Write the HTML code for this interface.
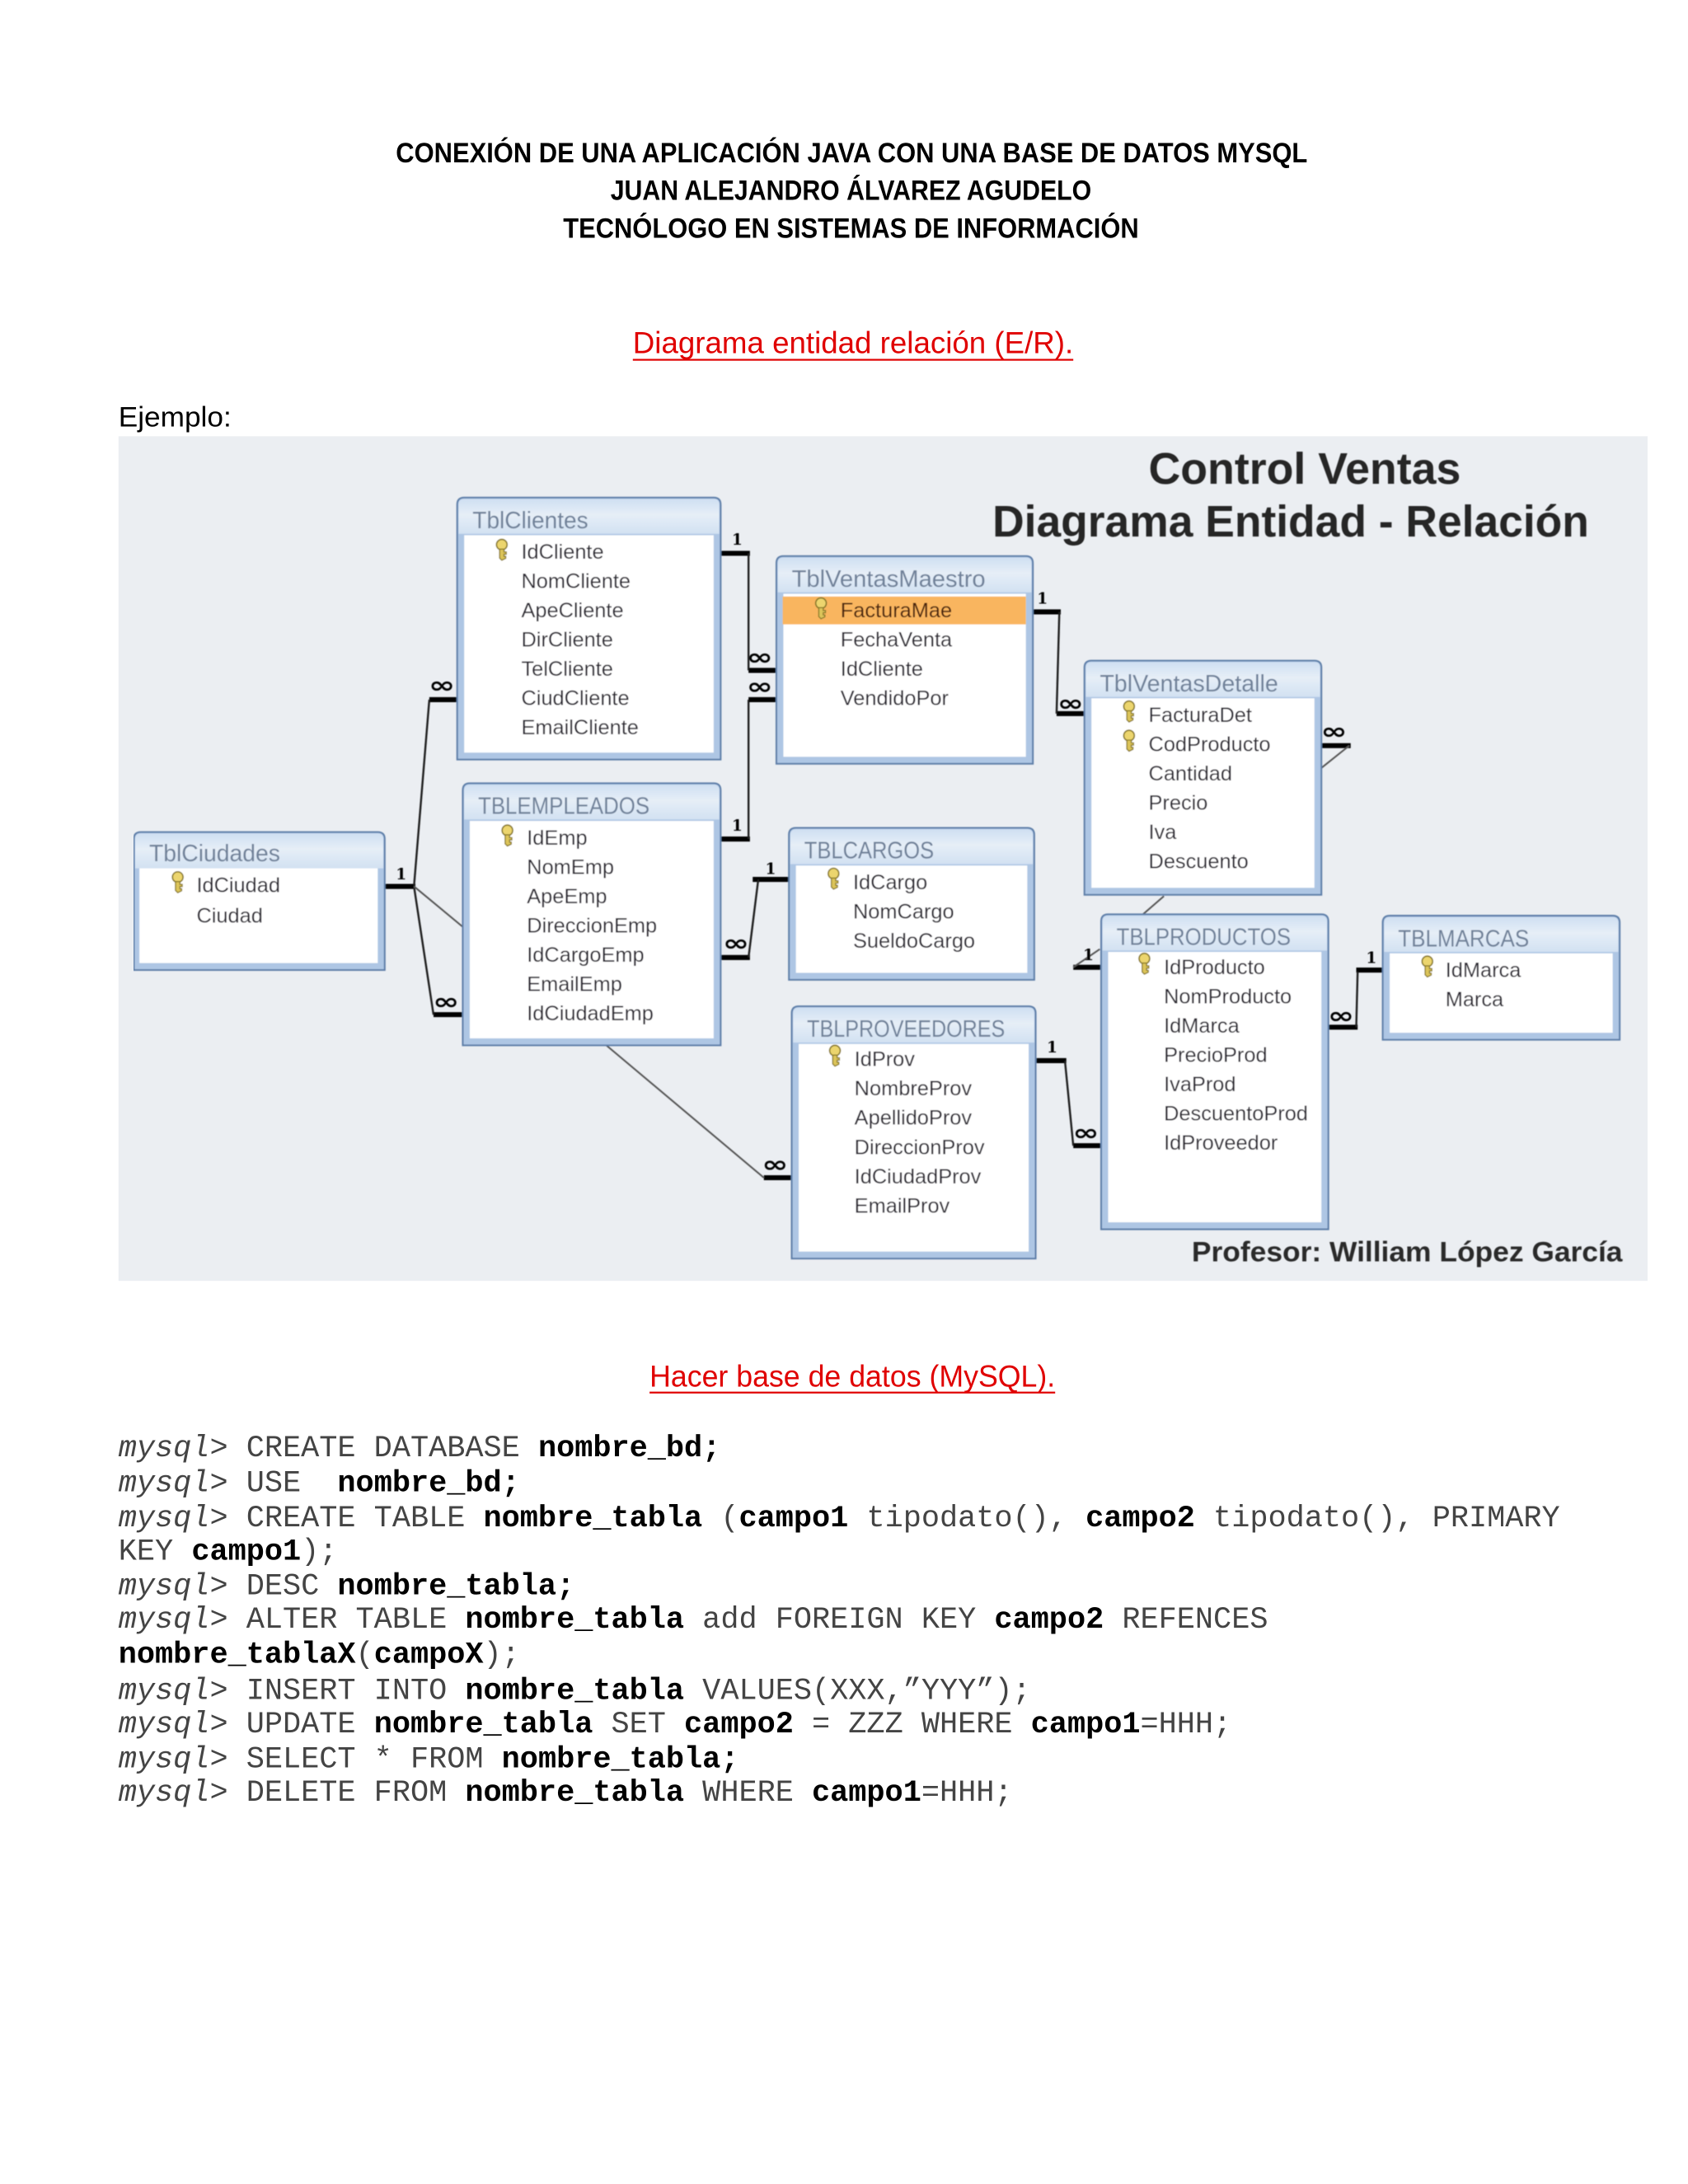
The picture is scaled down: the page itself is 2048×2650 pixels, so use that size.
<!DOCTYPE html>
<html><head><meta charset="utf-8"><title>Conexión</title>
<style>
html,body{margin:0;padding:0;background:#fff}
svg{display:block}
text{white-space:pre}
.h{font:bold 20px "Liberation Sans",sans-serif;fill:#000}
.r{font:22px "Liberation Sans",sans-serif;fill:#e00000}
.e{font:20px "Liberation Sans",sans-serif;fill:#000}
.c{font:21.82px "Liberation Mono",monospace;fill:#444}
.c .b{font-weight:bold;fill:#000}
.c .i{font-style:italic}
.t{font:16.7px "Liberation Sans",sans-serif;fill:#6f8199;transform:translateY(-1px)}
.f{font:15px "Liberation Sans",sans-serif;fill:#2a2830}
.big{font:bold 32px "Liberation Sans",sans-serif;fill:#262626;transform:translateY(-1px)}
.pr{font:bold 20px "Liberation Sans",sans-serif;fill:#2b2b2b;transform:translateY(-1px)}
.one{font:bold 11px "DejaVu Serif",serif;fill:#000}
.inf{font:bold 16px "DejaVu Sans",sans-serif;fill:#000}
.tk{stroke:#000;stroke-width:3.6;fill:none}
.ln{stroke:#1a1a1a;stroke-width:1.4;fill:none}
.gl{stroke:#555;stroke-width:1.2;fill:none}
.fr{fill:#aec6e4;stroke:#5d7ea8;stroke-width:1.2}
.in{fill:#fff}
</style></head><body>
<svg xmlns="http://www.w3.org/2000/svg" width="2048" height="2650" viewBox="0 0 1211 1567">
<defs>
<linearGradient id="g" x1="0" y1="0" x2="0" y2="1"><stop offset="0" stop-color="#cfdff2"/><stop offset=".45" stop-color="#e6eef7"/><stop offset="1" stop-color="#d2e1f2"/></linearGradient>
<g id="k"><circle cx="5" cy="3.8" r="3.8" fill="#ecd56e" stroke="#8a7a2a" stroke-width="1"/><path d="M3.4 7h3.2v2h1.6v1.6H6.6v1.6h1.2v1.4L5 15l-1.6-1.6z" fill="#dcc45a" stroke="#8a7a2a" stroke-width=".8"/></g>
<filter id="bl" x="0" y="0" width="100%" height="100%"><feGaussianBlur stdDeviation="0.3"/></filter>
</defs>

<text class="h" x="284" y="116.5" textLength="654" lengthAdjust="spacingAndGlyphs">CONEXIÓN DE UNA APLICACIÓN JAVA CON UNA BASE DE DATOS MYSQL</text>
<text class="h" x="438" y="143.5" textLength="345" lengthAdjust="spacingAndGlyphs">JUAN ALEJANDRO ÁLVAREZ AGUDELO</text>
<text class="h" x="404" y="170.5" textLength="413" lengthAdjust="spacingAndGlyphs">TECNÓLOGO EN SISTEMAS DE INFORMACIÓN</text>

<text class="r" x="454" y="253.5" textLength="316" lengthAdjust="spacingAndGlyphs">Diagrama entidad relación (E/R).</text>
<rect x="454" y="257.5" width="316" height="1.3" fill="#e00000"/>
<text class="e" x="85" y="306" textLength="81" lengthAdjust="spacingAndGlyphs">Ejemplo:</text>

<rect x="85" y="313" width="1097" height="606" fill="#ebeef2"/>
<g filter="url(#bl)">
<text class="big" x="824" y="348" textLength="224" lengthAdjust="spacingAndGlyphs">Control Ventas</text>
<text class="big" x="712" y="386" textLength="428" lengthAdjust="spacingAndGlyphs">Diagrama Entidad - Relación</text>
<text class="pr" x="855" y="906" textLength="309" lengthAdjust="spacingAndGlyphs">Profesor: William López García</text>

<!-- connectors -->
<path class="tk" d="M517 397H538M537 481H557M537 502H557M517 602H538M517 687H538M540 631H566M276 636H298M308 502H328M311 728H332M548 845H568M743 761H765M770 822H790M741 439H761M758 512H778M948 535H969M770 694H790M953 737H974M973 696H992"/>
<path class="ln" d="M537 397V481M537 502V602M537 687L544 631M297 636L308 502M297 636L311 728M764 761L770 822M760 439L758 512M973 737L974 697"/>
<path class="gl" d="M297 636L332 665M435 750L548 845M968 535L948 551M835 643L820 656M789 681L770 694"/>
<text class="one" x="525" y="391">1</text><text class="one" x="525" y="596">1</text><text class="one" x="549" y="627">1</text><text class="one" x="284" y="631">1</text><text class="one" x="751" y="755">1</text><text class="one" x="744" y="433">1</text><text class="one" x="777" y="689">1</text><text class="one" x="980" y="691">1</text>
<text class="inf" x="535.5" y="477" textLength="19" lengthAdjust="spacingAndGlyphs">∞</text>
<text class="inf" x="535.5" y="498" textLength="19" lengthAdjust="spacingAndGlyphs">∞</text>
<text class="inf" x="307.5" y="497" textLength="19" lengthAdjust="spacingAndGlyphs">∞</text>
<text class="inf" x="518.5" y="682" textLength="19" lengthAdjust="spacingAndGlyphs">∞</text>
<text class="inf" x="310.5" y="724" textLength="19" lengthAdjust="spacingAndGlyphs">∞</text>
<text class="inf" x="546.5" y="841" textLength="19" lengthAdjust="spacingAndGlyphs">∞</text>
<text class="inf" x="769.5" y="818" textLength="19" lengthAdjust="spacingAndGlyphs">∞</text>
<text class="inf" x="758.5" y="510" textLength="19" lengthAdjust="spacingAndGlyphs">∞</text>
<text class="inf" x="947.5" y="530" textLength="19" lengthAdjust="spacingAndGlyphs">∞</text>
<text class="inf" x="952.5" y="734" textLength="19" lengthAdjust="spacingAndGlyphs">∞</text>

<!-- TblClientes -->
<path class="fr" d="M328 545V362Q328 357 333 357H512Q517 357 517 362V545Z"/>
<path d="M329 383V362Q329 358 333 358H512Q516 358 516 362V383Z" fill="url(#g)"/>
<rect class="in" x="333" y="384" width="179" height="156"/>
<text class="t" x="339" y="380" textLength="83" lengthAdjust="spacingAndGlyphs">TblClientes</text>
<use href="#k" x="355" y="387"/>
<text class="f" x="374" y="401">IdCliente</text><text class="f" x="374" y="422">NomCliente</text><text class="f" x="374" y="443">ApeCliente</text><text class="f" x="374" y="464">DirCliente</text><text class="f" x="374" y="485">TelCliente</text><text class="f" x="374" y="506">CiudCliente</text><text class="f" x="374" y="527">EmailCliente</text>

<!-- TBLEMPLEADOS -->
<path class="fr" d="M332 750V567Q332 562 337 562H512Q517 562 517 567V750Z"/>
<path d="M333 588V567Q333 563 337 563H512Q516 563 516 567V588Z" fill="url(#g)"/>
<rect class="in" x="337" y="589" width="175" height="156"/>
<text class="t" x="343" y="585" textLength="123" lengthAdjust="spacingAndGlyphs">TBLEMPLEADOS</text>
<use href="#k" x="359" y="592"/>
<text class="f" x="378" y="606">IdEmp</text><text class="f" x="378" y="627">NomEmp</text><text class="f" x="378" y="648">ApeEmp</text><text class="f" x="378" y="669">DireccionEmp</text><text class="f" x="378" y="690">IdCargoEmp</text><text class="f" x="378" y="711">EmailEmp</text><text class="f" x="378" y="732">IdCiudadEmp</text>

<!-- TblCiudades -->
<path class="fr" d="M96 696V602Q96 597 101 597H271Q276 597 276 602V696Z"/>
<path d="M97 623V602Q97 598 101 598H271Q275 598 275 602V623Z" fill="url(#g)"/>
<rect class="in" x="100" y="623" width="171" height="68"/>
<text class="t" x="107" y="619" textLength="94" lengthAdjust="spacingAndGlyphs">TblCiudades</text>
<use href="#k" x="122.5" y="625.5"/>
<text class="f" x="141" y="640">IdCiudad</text><text class="f" x="141" y="662">Ciudad</text>

<!-- TblVentasMaestro -->
<path class="fr" d="M557 548V404Q557 399 562 399H736Q741 399 741 404V548Z"/>
<path d="M558 425V404Q558 400 562 400H736Q740 400 740 404V425Z" fill="url(#g)"/>
<rect class="in" x="562" y="426" width="174" height="117"/>
<rect x="561.5" y="428" width="174.5" height="20" fill="#f9b55e"/>
<text class="t" x="568" y="422" textLength="139" lengthAdjust="spacingAndGlyphs">TblVentasMaestro</text>
<use href="#k" x="584" y="429"/>
<text class="f" x="603" y="443" style="fill:#4a2408">FacturaMae</text><text class="f" x="603" y="464">FechaVenta</text><text class="f" x="603" y="485">IdCliente</text><text class="f" x="603" y="506">VendidoPor</text>

<!-- TBLCARGOS -->
<path class="fr" d="M566 703V599Q566 594 571 594H737Q742 594 742 599V703Z"/>
<path d="M567 620V599Q567 595 571 595H737Q741 595 741 599V620Z" fill="url(#g)"/>
<rect class="in" x="571" y="621" width="166" height="77"/>
<text class="t" x="577" y="617" textLength="93" lengthAdjust="spacingAndGlyphs">TBLCARGOS</text>
<use href="#k" x="593" y="623"/>
<text class="f" x="612" y="638">IdCargo</text><text class="f" x="612" y="659">NomCargo</text><text class="f" x="612" y="680">SueldoCargo</text>

<!-- TBLPROVEEDORES -->
<path class="fr" d="M568 903V727Q568 722 573 722H738Q743 722 743 727V903Z"/>
<path d="M569 748V727Q569 723 573 723H738Q742 723 742 727V748Z" fill="url(#g)"/>
<rect class="in" x="573" y="749" width="165" height="149"/>
<text class="t" x="579" y="745" textLength="142" lengthAdjust="spacingAndGlyphs">TBLPROVEEDORES</text>
<use href="#k" x="594" y="750"/>
<text class="f" x="613" y="765">IdProv</text><text class="f" x="613" y="786">NombreProv</text><text class="f" x="613" y="807">ApellidoProv</text><text class="f" x="613" y="828">DireccionProv</text><text class="f" x="613" y="849">IdCiudadProv</text><text class="f" x="613" y="870">EmailProv</text>

<!-- TblVentasDetalle -->
<path class="fr" d="M778 642V479Q778 474 783 474H943Q948 474 948 479V642Z"/>
<path d="M779 500V479Q779 475 783 475H943Q947 475 947 479V500Z" fill="url(#g)"/>
<rect class="in" x="783" y="501" width="160" height="136"/>
<text class="t" x="789" y="497" textLength="128" lengthAdjust="spacingAndGlyphs">TblVentasDetalle</text>
<use href="#k" x="805" y="503"/><use href="#k" x="805" y="524"/>
<text class="f" x="824" y="518">FacturaDet</text><text class="f" x="824" y="539">CodProducto</text><text class="f" x="824" y="560">Cantidad</text><text class="f" x="824" y="581">Precio</text><text class="f" x="824" y="602">Iva</text><text class="f" x="824" y="623">Descuento</text>

<!-- TBLPRODUCTOS -->
<path class="fr" d="M790 882V661Q790 656 795 656H948Q953 656 953 661V882Z"/>
<path d="M791 682V661Q791 657 795 657H948Q952 657 952 661V682Z" fill="url(#g)"/>
<rect class="in" x="795" y="683" width="153" height="194"/>
<text class="t" x="801" y="679" textLength="125" lengthAdjust="spacingAndGlyphs">TBLPRODUCTOS</text>
<use href="#k" x="816" y="684"/>
<text class="f" x="835" y="699">IdProducto</text><text class="f" x="835" y="720">NomProducto</text><text class="f" x="835" y="741">IdMarca</text><text class="f" x="835" y="762">PrecioProd</text><text class="f" x="835" y="783">IvaProd</text><text class="f" x="835" y="804">DescuentoProd</text><text class="f" x="835" y="825">IdProveedor</text>

<!-- TBLMARCAS -->
<path class="fr" d="M992 746V662Q992 657 997 657H1157Q1162 657 1162 662V746Z"/>
<path d="M993 683V662Q993 658 997 658H1157Q1161 658 1161 662V683Z" fill="url(#g)"/>
<rect class="in" x="997" y="684" width="160" height="57"/>
<text class="t" x="1003" y="680" textLength="94" lengthAdjust="spacingAndGlyphs">TBLMARCAS</text>
<use href="#k" x="1019" y="686"/>
<text class="f" x="1037" y="701">IdMarca</text><text class="f" x="1037" y="722">Marca</text>
</g>

<text class="r" x="466" y="995" textLength="291" lengthAdjust="spacingAndGlyphs">Hacer base de datos (MySQL).</text>
<rect x="466" y="998.5" width="291" height="1.3" fill="#e00000"/>

<text class="c" x="85" y="1045"><tspan class="i">mysql&gt;</tspan> CREATE DATABASE <tspan class="b">nombre_bd;</tspan></text>
<text class="c" x="85" y="1070"><tspan class="i">mysql&gt;</tspan> USE  <tspan class="b">nombre_bd;</tspan></text>
<text class="c" x="85" y="1095"><tspan class="i">mysql&gt;</tspan> CREATE TABLE <tspan class="b">nombre_tabla</tspan> (<tspan class="b">campo1</tspan> tipodato(), <tspan class="b">campo2</tspan> tipodato(), PRIMARY</text>
<text class="c" x="85" y="1119">KEY <tspan class="b">campo1</tspan>);</text>
<text class="c" x="85" y="1144"><tspan class="i">mysql&gt;</tspan> DESC <tspan class="b">nombre_tabla;</tspan></text>
<text class="c" x="85" y="1168"><tspan class="i">mysql&gt;</tspan> ALTER TABLE <tspan class="b">nombre_tabla</tspan> add FOREIGN KEY <tspan class="b">campo2</tspan> REFENCES</text>
<text class="c" x="85" y="1193"><tspan class="b">nombre_tablaX</tspan>(<tspan class="b">campoX</tspan>);</text>
<text class="c" x="85" y="1219"><tspan class="i">mysql&gt;</tspan> INSERT INTO <tspan class="b">nombre_tabla</tspan> VALUES(XXX,”YYY”);</text>
<text class="c" x="85" y="1243"><tspan class="i">mysql&gt;</tspan> UPDATE <tspan class="b">nombre_tabla</tspan> SET <tspan class="b">campo2</tspan> = ZZZ WHERE <tspan class="b">campo1</tspan>=HHH;</text>
<text class="c" x="85" y="1268"><tspan class="i">mysql&gt;</tspan> SELECT * FROM <tspan class="b">nombre_tabla;</tspan></text>
<text class="c" x="85" y="1292"><tspan class="i">mysql&gt;</tspan> DELETE FROM <tspan class="b">nombre_tabla</tspan> WHERE <tspan class="b">campo1</tspan>=HHH;</text>
</svg>
</body></html>
